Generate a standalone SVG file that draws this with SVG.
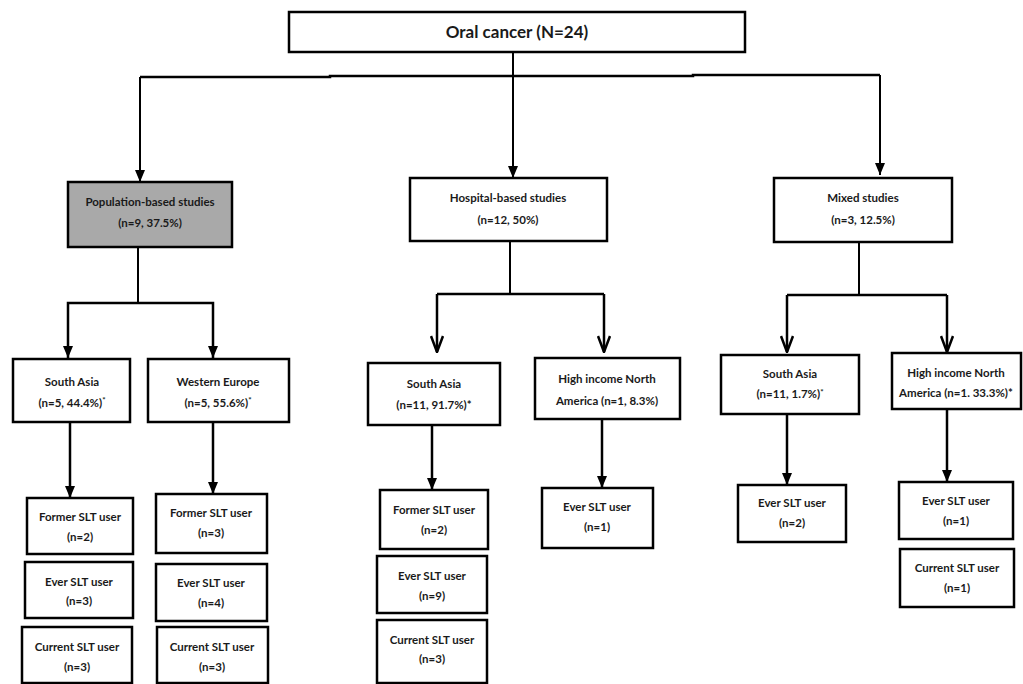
<svg xmlns="http://www.w3.org/2000/svg" width="1023" height="684" viewBox="0 0 1023 684">
<style>
.box{fill:#fff;stroke:#000;stroke-width:2.5}
.gray{fill:#a9a9a9}
.t{font-family:Lato,"Liberation Sans",sans-serif;font-weight:bold;font-size:11.5px;fill:#1a1a1a;text-anchor:middle}
.big{font-size:17px}
.c{stroke:#000;stroke-width:2;fill:none}
.thick{stroke-width:2.5}
</style>
<defs>
<marker id="tri" viewBox="0 0 12 10" refX="12" refY="5" markerWidth="12" markerHeight="10" markerUnits="userSpaceOnUse" orient="auto">
<path d="M0,0 L12,5 L0,10 z" fill="#000"/>
</marker>
<marker id="vee" viewBox="0 0 18 14" refX="17" refY="7" markerWidth="18" markerHeight="14" markerUnits="userSpaceOnUse" orient="auto">
<path d="M1,1 L17,7 L1,13" fill="none" stroke="#000" stroke-width="2.5"/>
</marker>
</defs>
<g id="connectors">
<line class="c" x1="513" y1="52" x2="513" y2="178" marker-end="url(#tri)"/>
<polyline class="c thick" points="140,77 330,77 330,76 693,76 693,75 880,75"/>
<line class="c" x1="140" y1="77" x2="140" y2="182" marker-end="url(#tri)"/>
<line class="c" x1="880" y1="75" x2="880" y2="175" marker-end="url(#tri)"/>
<line class="c" x1="138" y1="247" x2="138" y2="303"/>
<polyline class="c thick" points="68,358 68,303 213,303 213,358"/>
<line class="c" x1="68" y1="303" x2="68" y2="358" marker-end="url(#tri)"/>
<line class="c" x1="213" y1="303" x2="213" y2="358" marker-end="url(#tri)"/>
<line class="c" x1="510" y1="241" x2="510" y2="294"/>
<polyline class="c thick" points="437,294 604,294"/>
<line class="c thick" x1="437" y1="294" x2="437" y2="352" marker-end="url(#vee)"/>
<line class="c thick" x1="604" y1="294" x2="604" y2="352" marker-end="url(#vee)"/>
<line class="c" x1="859" y1="242" x2="859" y2="295"/>
<polyline class="c thick" points="787,295 947,295"/>
<line class="c thick" x1="787" y1="295" x2="787" y2="352" marker-end="url(#vee)"/>
<line class="c thick" x1="947" y1="295" x2="947" y2="352" marker-end="url(#vee)"/>
<line class="c thick" x1="70" y1="422" x2="70" y2="498" marker-end="url(#tri)"/>
<line class="c thick" x1="213" y1="422" x2="213" y2="494" marker-end="url(#tri)"/>
<line class="c thick" x1="432" y1="425" x2="432" y2="490" marker-end="url(#tri)"/>
<line class="c thick" x1="602" y1="419" x2="602" y2="488" marker-end="url(#tri)"/>
<line class="c thick" x1="787" y1="414" x2="787" y2="485" marker-end="url(#tri)"/>
<line class="c thick" x1="947" y1="409" x2="947" y2="482" marker-end="url(#tri)"/>
</g>
<g id="root"><rect class="box" x="289" y="12" width="456" height="40"/><text class="t big" x="517" y="38">Oral cancer (N=24)</text></g>
<g id="population"><rect class="box gray" x="68" y="182" width="164" height="65"/><text class="t" x="150" y="206">Population-based studies</text><text class="t" x="150" y="227">(n=9, 37.5%)</text></g>
<g id="hospital"><rect class="box" x="410" y="178" width="197" height="63"/><text class="t" x="508" y="202">Hospital-based studies</text><text class="t" x="508" y="224">(n=12, 50%)</text></g>
<g id="mixed"><rect class="box" x="774" y="178" width="178" height="64"/><text class="t" x="863" y="202">Mixed studies</text><text class="t" x="863" y="224">(n=3, 12.5%)</text></g>

<g id="pop-southasia"><rect class="box" x="13" y="359" width="117" height="63"/><text class="t" x="72" y="386">South Asia</text><text class="t" x="72" y="407">(n=5, 44.4%)<tspan font-size="8" dy="-4">*</tspan></text></g>
<g id="pop-westeurope"><rect class="box" x="148" y="359" width="141" height="63"/><text class="t" x="218" y="386">Western Europe</text><text class="t" x="218" y="407">(n=5, 55.6%)<tspan font-size="8" dy="-4">*</tspan></text></g>
<g id="hosp-southasia"><rect class="box" x="368" y="363" width="132" height="62"/><text class="t" x="434" y="388">South Asia</text><text class="t" x="434" y="409">(n=11, 91.7%)*</text></g>
<g id="hosp-hina"><rect class="box" x="535" y="358" width="145" height="61"/><text class="t" x="607" y="383">High income North</text><text class="t" x="607" y="405">America (n=1, 8.3%)</text></g>
<g id="mixed-southasia"><rect class="box" x="721" y="355" width="138" height="59"/><text class="t" x="790" y="378">South Asia</text><text class="t" x="790" y="398">(n=11, 1.7%)<tspan font-size="8" dy="-3">*</tspan></text></g>
<g id="mixed-hina"><rect class="box" x="892" y="353" width="129" height="56"/><text class="t" x="956" y="377">High income North</text><text class="t" x="956" y="397">America (n=1. 33.3%)*</text></g>

<g id="pop-sa-former"><rect class="box" x="27" y="498" width="106" height="56"/><text class="t" x="80" y="521">Former SLT user</text><text class="t" x="80" y="541">(n=2)</text></g>
<g id="pop-sa-ever"><rect class="box" x="25" y="562" width="108" height="56"/><text class="t" x="79" y="586">Ever SLT user</text><text class="t" x="79" y="605">(n=3)</text></g>
<g id="pop-sa-current"><rect class="box" x="22" y="627" width="110" height="56"/><text class="t" x="77" y="651">Current SLT user</text><text class="t" x="77" y="671">(n=3)</text></g>
<g id="pop-we-former"><rect class="box" x="156" y="494" width="111" height="59"/><text class="t" x="211" y="517">Former SLT user</text><text class="t" x="211" y="537">(n=3)</text></g>
<g id="pop-we-ever"><rect class="box" x="156" y="564" width="111" height="57"/><text class="t" x="211" y="587">Ever SLT user</text><text class="t" x="211" y="607">(n=4)</text></g>
<g id="pop-we-current"><rect class="box" x="157" y="627" width="111" height="56"/><text class="t" x="212" y="651">Current SLT user</text><text class="t" x="212" y="671">(n=3)</text></g>

<g id="hosp-sa-former"><rect class="box" x="380" y="490" width="108" height="59"/><text class="t" x="434" y="514">Former SLT user</text><text class="t" x="434" y="534">(n=2)</text></g>
<g id="hosp-sa-ever"><rect class="box" x="377" y="556" width="110" height="57"/><text class="t" x="432" y="580">Ever SLT user</text><text class="t" x="432" y="600">(n=9)</text></g>
<g id="hosp-sa-current"><rect class="box" x="377" y="620" width="110" height="63"/><text class="t" x="432" y="644">Current SLT user</text><text class="t" x="432" y="663">(n=3)</text></g>
<g id="hosp-hina-ever"><rect class="box" x="542" y="488" width="111" height="60"/><text class="t" x="597" y="511">Ever SLT user</text><text class="t" x="597" y="531">(n=1)</text></g>

<g id="mixed-sa-ever"><rect class="box" x="738" y="485" width="108" height="57"/><text class="t" x="792" y="507">Ever SLT user</text><text class="t" x="792" y="527">(n=2)</text></g>
<g id="mixed-hina-ever"><rect class="box" x="899" y="482" width="114" height="57"/><text class="t" x="956" y="505">Ever SLT user</text><text class="t" x="956" y="525">(n=1)</text></g>
<g id="mixed-hina-current"><rect class="box" x="900" y="549" width="114" height="58"/><text class="t" x="957" y="572">Current SLT user</text><text class="t" x="957" y="592">(n=1)</text></g>
</svg>
